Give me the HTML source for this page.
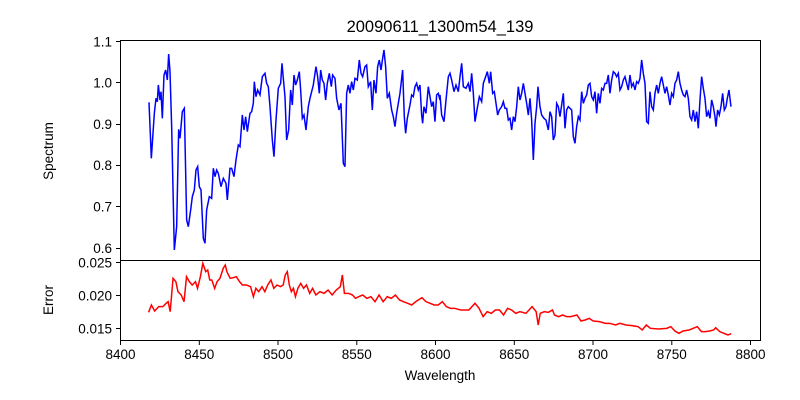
<!DOCTYPE html>
<html><head><meta charset="utf-8"><style>body{margin:0;background:#fff}svg{display:block}text{font-family:"Liberation Sans","DejaVu Sans",sans-serif;fill:#000}</style></head><body>
<svg width="800" height="400" viewBox="0 0 800 400" xmlns="http://www.w3.org/2000/svg">
<rect width="800" height="400" fill="#fff"/>
<text x="440" y="32" font-size="16.5" text-anchor="middle">20090611_1300m54_139</text>
<g transform="translate(120,40) scale(0.3333)" fill="none" stroke="#00f">
<polyline vector-effect="non-scaling-stroke" stroke-width="1.5" points="87,187 94,355 103,220 108,175 112,185 115,135 120,180 123,155 127,235 132,105 137,90 142,120 146,42 150,95 155,260 163,630 170,560 176,268 180,295 187,215 193,205 200,540 205,560 212,510 217,470 223,450 228,390 233,380 238,440 243,450 250,595 255,610 260,510 268,470 275,475 280,385 285,410 290,390 295,400 303,440 310,415 318,430 322,480 330,385 335,385 342,410 348,360 355,315 360,320 367,225 372,270 377,230 382,275 390,220 395,215 400,190 403,125 408,170 413,150 420,165 427,110 435,100 440,130 445,140 450,200 457,300 462,350 468,240 475,145 482,130 486,70 490,115 495,170 500,300 506,270 512,150 517,195 522,105 527,135 532,120 538,95 542,150 547,235 552,225 558,270 565,200 570,175 575,155 580,135 588,80 593,110 598,160 602,90 607,120 612,130 617,180 622,130 628,100 634,140 638,105 645,115 650,175 657,210 663,190 670,370 675,380 680,160 685,135 690,160 695,125 700,150 705,115 712,120 718,60 723,100 728,110 735,80 740,75 745,140 752,125 757,210 762,120 768,160 773,80 778,60 783,90 788,55 792,30 797,80 802,175 808,160 815,210 820,230 825,260 830,220 835,190 840,160 848,90 853,230 857,280 862,235 870,195 875,165 880,170 885,140 890,130 895,150 900,135 905,225 908,250 912,200 918,220 925,140 930,170 935,200 940,185 945,245 950,165 955,160 960,180"/>
</g>
<g transform="translate(440,40) scale(0.3333)" fill="none" stroke="#00f">
<polyline vector-effect="non-scaling-stroke" stroke-width="1.5" points="0,165 5,225 12,245 18,180 25,110 30,100 35,120 42,155 48,135 55,155 60,110 65,70 70,140 78,145 85,130 90,155 95,100 100,160 105,245 110,215 118,170 125,185 130,130 137,110 142,95 148,130 152,95 158,160 163,155 168,190 173,225 178,210 185,200 190,185 195,205 200,205 205,240 210,235 215,270 220,230 225,245 230,200 235,140 240,180 245,160 250,130 255,160 260,190 265,225 270,175 275,240 280,360 285,250 290,200 294,140 300,200 305,225 312,235 318,240 325,270 330,215 335,230 340,300 345,285 350,190 355,200 360,230 365,195 370,160 375,265 380,210 385,200 390,205 395,210 400,290 405,310 410,260 415,230 420,240 425,155 430,190 435,175 440,165 445,135 450,130 455,170 460,180 465,155 470,220 475,160 480,190 485,145 490,150 495,130 500,130 505,105 510,160 515,120 520,95 525,100 530,110 535,100 540,150 545,140 550,120 555,110 560,130 565,150 570,105 575,140 580,130 585,150 590,125 595,130 600,115 605,60 610,100 615,130 620,245 625,250 630,155 635,200 640,210 645,160 650,135 655,160 660,130 665,110 670,135 675,160 680,140 685,165 690,195 695,160 700,170 705,130 710,120 715,95 720,130 725,150 730,165 735,170 740,150 745,175 750,230 755,240 760,210 765,245 770,215 775,265 780,180 785,110 790,145 795,175 800,230 805,215 810,235 815,180 820,200 825,230 828,260 833,210 838,225 843,200 848,160 853,210 858,200 862,175 867,150 870,175 873,200"/>
</g>
<g transform="translate(120,255) scale(0.408,0.3333)" fill="none" stroke="#f00">
<polyline vector-effect="non-scaling-stroke" stroke-width="1.5" points="70,172 77,150 85,168 95,155 105,155 113,145 118,140 123,170 130,70 137,80 142,110 150,120 157,140 163,65 170,80 177,90 185,80 190,100 197,65 203,25 210,50 215,45 220,75 225,75 232,100 238,80 245,70 253,40 258,30 262,50 270,70 278,68 285,65 293,80 300,90 310,90 320,95 327,125 333,100 340,110 348,95 355,110 362,90 370,75 377,100 385,90 393,95 400,90 405,60 410,50 415,90 420,110 425,100 430,125 436,100 443,85 450,100 457,90 465,115 472,100 480,120 490,110 500,115 510,105 520,120 530,105 540,95 545,60 550,115 560,115 570,120 577,130 585,125 595,120 605,130 615,125 625,140 635,120 645,140 655,125 665,130 675,120 685,135 695,140 705,145 715,150 725,140 740,128 750,140 760,145 770,150 780,150 790,140 800,155 810,160 820,160 835,165 845,165 855,165 870,145 880,160 890,185 900,170 910,175 920,165 930,165 940,180 950,160 960,165 970,175 980,170 995,175 1010,155 1020,170 1025,210 1030,175 1040,170 1050,172 1060,165 1065,180 1075,185 1085,180 1095,185 1105,185 1120,180 1130,198 1140,195 1150,190 1160,198 1175,200 1190,205 1200,205 1215,210 1225,205 1240,210 1255,212 1270,215 1280,225 1290,210 1300,220 1320,222 1340,220 1350,215 1360,228 1370,235 1380,228 1395,225 1405,220 1415,215 1425,230 1435,230 1445,228 1455,225 1460,218 1470,230 1480,235 1490,240 1498,236"/>
</g>
<rect x="120.5" y="40.5" width="640" height="220" fill="none" stroke="#000" stroke-width="1"/>
<rect x="120.5" y="260.5" width="640" height="80" fill="none" stroke="#000" stroke-width="1"/>
<g stroke="#000" stroke-width="1">
<line x1="116" y1="41.5" x2="120" y2="41.5"/><line x1="116" y1="82.5" x2="120" y2="82.5"/><line x1="116" y1="124.5" x2="120" y2="124.5"/><line x1="116" y1="165.5" x2="120" y2="165.5"/><line x1="116" y1="206.5" x2="120" y2="206.5"/><line x1="116" y1="248.5" x2="120" y2="248.5"/>
<line x1="116" y1="262.5" x2="120" y2="262.5"/><line x1="116" y1="295.5" x2="120" y2="295.5"/><line x1="116" y1="328.5" x2="120" y2="328.5"/>
<line x1="120.5" y1="340" x2="120.5" y2="345"/><line x1="199.3" y1="340" x2="199.3" y2="345"/><line x1="278" y1="340" x2="278" y2="345"/><line x1="356.8" y1="340" x2="356.8" y2="345"/><line x1="435.5" y1="340" x2="435.5" y2="345"/><line x1="514.3" y1="340" x2="514.3" y2="345"/><line x1="593" y1="340" x2="593" y2="345"/><line x1="671.8" y1="340" x2="671.8" y2="345"/><line x1="750.5" y1="340" x2="750.5" y2="345"/>
</g>
<g font-size="13.5" text-anchor="end">
<text x="112" y="46.5">1.1</text><text x="112" y="87.5">1.0</text><text x="112" y="129">0.9</text><text x="112" y="170">0.8</text><text x="112" y="211.5">0.7</text><text x="112" y="253">0.6</text>
<text x="112" y="267.5">0.025</text><text x="112" y="300.5">0.020</text><text x="112" y="333.5">0.015</text>
</g>
<g font-size="13.5" text-anchor="middle">
<text x="120.5" y="359">8400</text><text x="199.3" y="359">8450</text><text x="278" y="359">8500</text><text x="356.8" y="359">8550</text><text x="435.5" y="359">8600</text><text x="514.3" y="359">8650</text><text x="593" y="359">8700</text><text x="671.8" y="359">8750</text><text x="750.5" y="359">8800</text>
<text x="440" y="380">Wavelength</text>
<text transform="translate(53,151) rotate(-90)">Spectrum</text>
<text transform="translate(53,300) rotate(-90)">Error</text>
</g>
</svg>
</body></html>
